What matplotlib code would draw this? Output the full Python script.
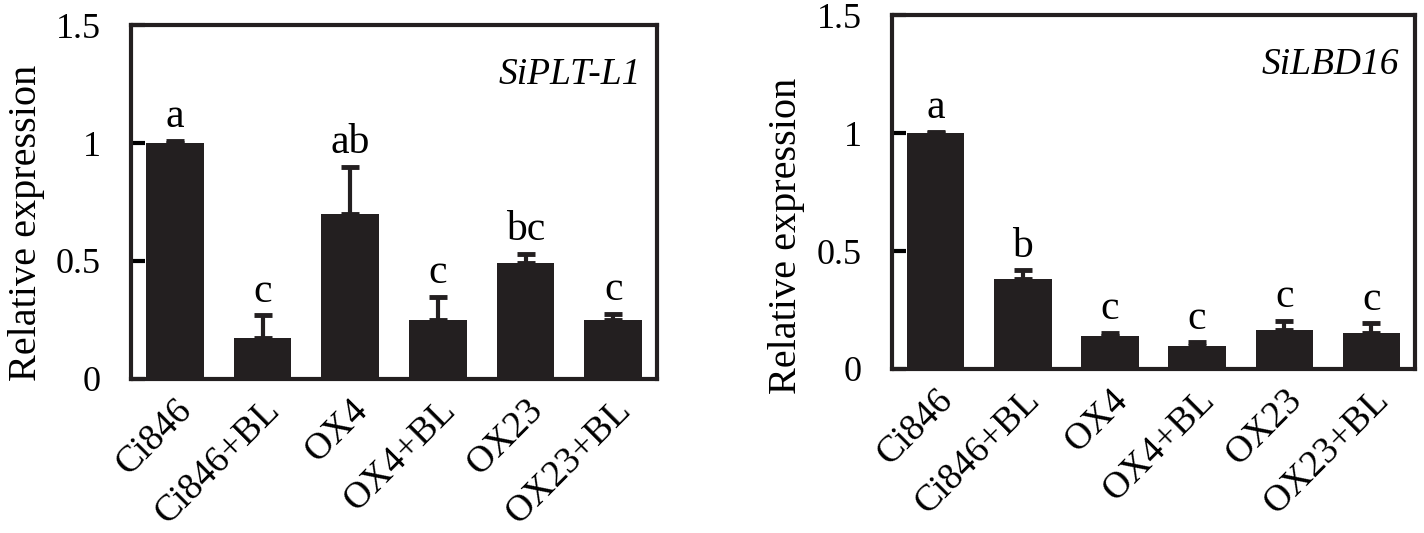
import matplotlib
matplotlib.use('Agg')
import matplotlib.pyplot as plt
import numpy as np

plt.rcParams['font.family'] = ['Liberation Serif', 'DejaVu Serif']

# data
groups = ['Ci846', 'Ci846+BL', 'OX4', 'OX4+BL', 'OX23', 'OX23+BL']

plt_l1_mean = [1.0, 0.174, 0.698, 0.252, 0.49, 0.252]
plt_l1_err = [0.008, 0.095, 0.20, 0.096, 0.041, 0.024]
plt_l1_sig = ['a', 'c', 'ab', 'c', 'bc', 'c']

lbd16_mean = [1.0, 0.383, 0.138, 0.099, 0.166, 0.153]
lbd16_err = [0.006, 0.035, 0.014, 0.014, 0.037, 0.041]
lbd16_sig = ['a', 'b', 'c', 'c', 'c', 'c']

y_ticks = [0, 0.5, 1, 1.5]
y_ticklabels = ['0', '0.5', '1', '1.5']


def draw_panel(ax, means, errs, sig, gene, label_x, label_y):
    x = np.arange(len(groups))
    ax.bar(x, means, width=0.66, color='#231f20', zorder=2)
    ax.errorbar(x, means, yerr=[np.zeros(len(errs)), errs], fmt='none',
                ecolor='#231f20', elinewidth=3, capsize=6.5, capthick=3.5,
                zorder=3)
    for xi, m, e, s in zip(x, means, errs, sig):
        ax.text(xi, m + e + 0.02, s, ha='center', va='bottom', fontsize=30)

    ax.set_xlim(-0.5, 5.5)
    ax.set_ylim(0, 1.5)
    ax.set_yticks(y_ticks)
    ax.set_yticklabels(y_ticklabels, fontsize=26)
    ax.set_xticks(x)
    ax.set_xticklabels(groups, rotation=45, ha='right', rotation_mode='anchor',
                       fontsize=27)
    ax.tick_params(axis='y', direction='in', length=10, width=3, pad=22)
    ax.tick_params(axis='x', length=0, pad=10)
    for sp in ax.spines.values():
        sp.set_linewidth(3)
        sp.set_color('#231f20')
    ax.set_ylabel('Relative expression', fontsize=29)
    ax.yaxis.set_label_coords(label_x, label_y)
    ax.text(0.97, 0.86, gene, transform=ax.transAxes, ha='right', va='center',
            fontsize=27, style='italic')


fig = plt.figure(figsize=(14.24, 5.33), dpi=100)
ax1 = fig.add_axes([0.092, 0.289, 0.3694, 0.664])
ax2 = fig.add_axes([0.6264, 0.3077, 0.3673, 0.664])

draw_panel(ax1, plt_l1_mean, plt_l1_err, plt_l1_sig, 'SiPLT-L1', -0.163, 0.44)
draw_panel(ax2, lbd16_mean, lbd16_err, lbd16_sig, 'SiLBD16', -0.166, 0.375)

fig.savefig('out.png', dpi=100)
